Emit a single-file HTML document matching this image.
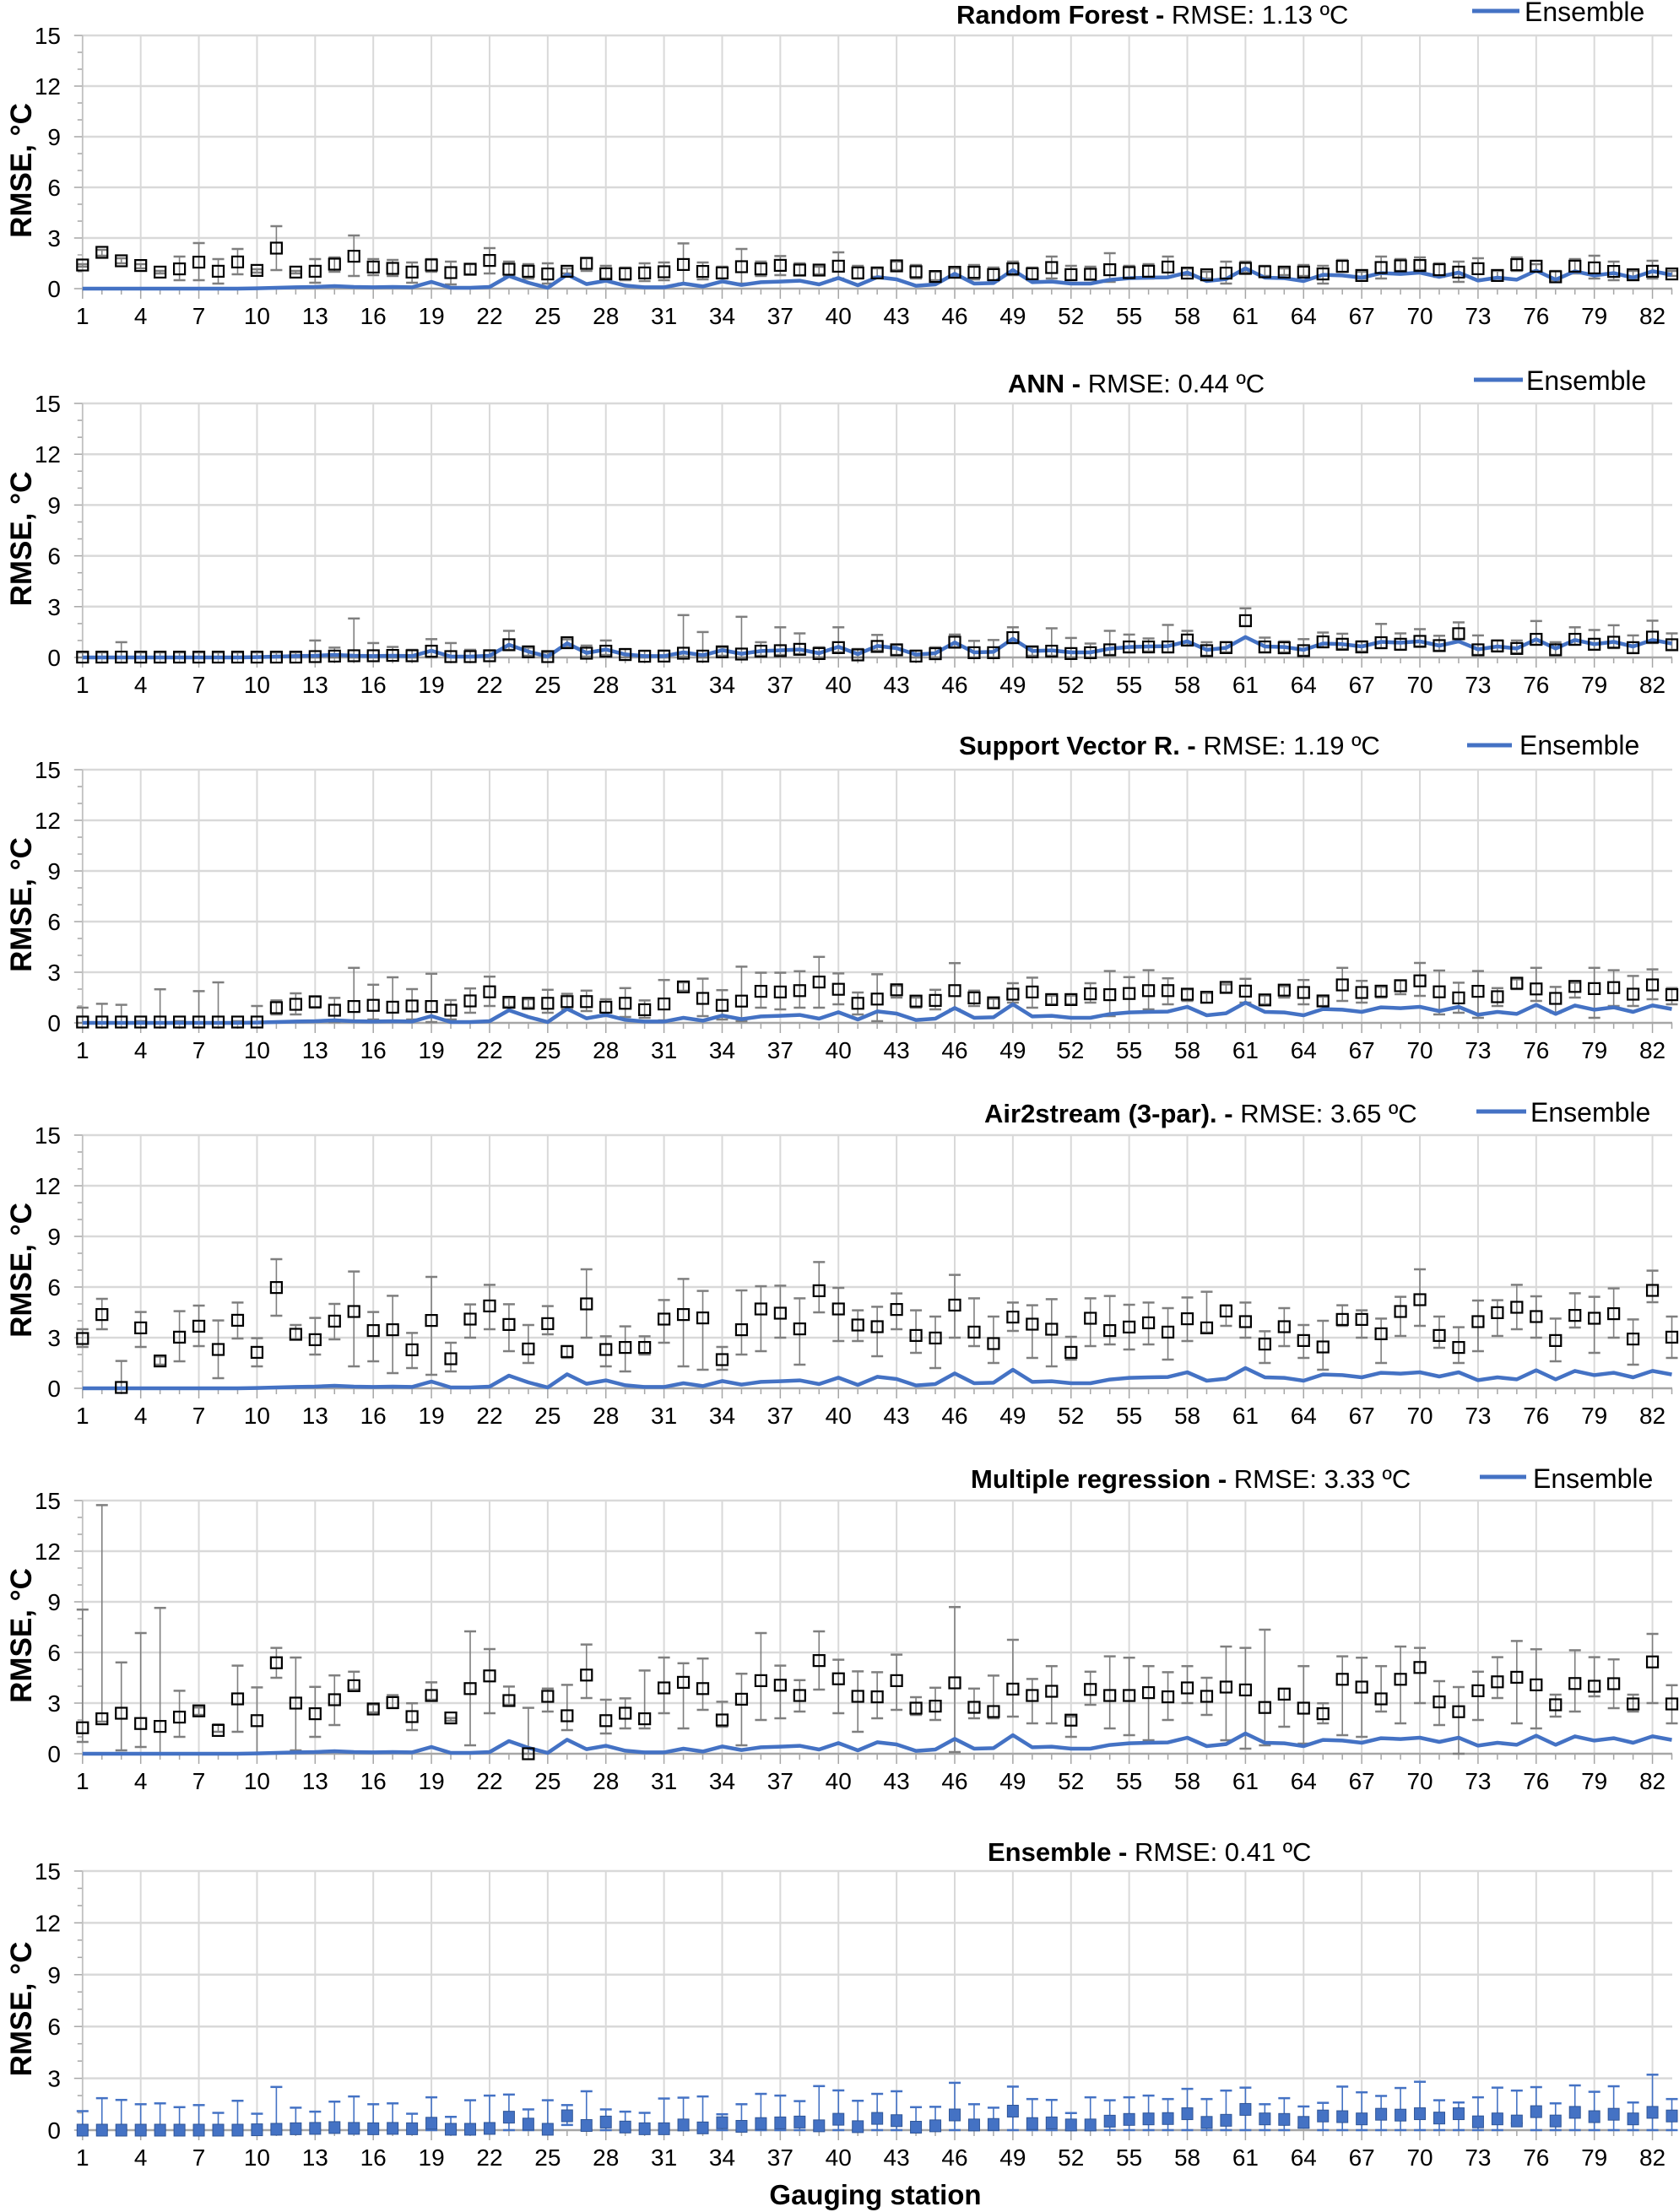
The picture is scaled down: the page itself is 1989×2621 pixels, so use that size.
<!DOCTYPE html>
<html>
<head>
<meta charset="utf-8">
<style>
  html,body{margin:0;padding:0;background:#fff;}
  svg{display:block;font-family:"Liberation Sans",Arial,sans-serif;}
</style>
</head>
<body>
<svg id="chart" xmlns="http://www.w3.org/2000/svg" width="1989" height="2621" viewBox="0 0 1989 2621">
  <rect x="0" y="0" width="1989" height="2621" fill="#ffffff"/>
  <g id="layer"></g>
  <text x="1037" y="2612" font-size="33" font-weight="bold" text-anchor="middle" fill="#000">Gauging station</text>
</svg>
<script>
// ---- data ----
const stations = Array.from({length:83},(_, k)=>k+1);
const yTicks = [0,3,6,9,12,15];
const xLabelStations = [1,4,7,10,13,16,19,22,25,28,31,34,37,40,43,46,49,52,55,58,61,64,67,70,73,76,79,82];

const ensemble = [0,0,0,0,0,0,0,0,0,0.02,0.05,0.08,0.1,0.15,0.1,0.08,0.1,0.08,0.4,0.05,0.05,0.1,0.75,0.35,0.05,0.83,0.27,0.47,0.18,0.08,0.08,0.3,0.13,0.43,0.22,0.38,0.42,0.47,0.25,0.63,0.2,0.68,0.55,0.17,0.25,0.88,0.3,0.33,1.1,0.38,0.42,0.3,0.3,0.52,0.62,0.65,0.67,0.95,0.45,0.57,1.2,0.65,0.62,0.45,0.82,0.78,0.65,0.92,0.87,0.95,0.7,0.95,0.48,0.65,0.53,1.07,0.53,1.03,0.78,0.92,0.65,1.03,0.82];
const ensUp = [1.1,1.85,1.75,1.5,1.55,1.33,1.45,1.0,1.7,0.95,2.5,1.3,1.07,1.65,1.95,1.5,1.55,0.95,1.9,0.77,1.73,2.0,2.06,1.2,1.73,1.45,2.25,1.2,1.07,1.0,1.83,1.88,1.95,0.92,1.5,2.1,2.0,1.68,2.55,2.3,1.7,2.1,2.25,1.33,1.35,2.74,1.5,1.3,2.52,1.8,1.75,0.99,1.9,1.73,1.9,2.0,1.8,2.39,1.8,2.29,2.46,1.5,1.85,1.37,1.58,2.52,2.19,1.98,2.44,2.8,1.73,1.6,1.9,2.46,2.29,2.49,1.55,2.59,2.22,2.54,1.6,3.21,1.8];
const ensLo = [0,0,0,0,0,0,0,0,0,0,0,0,0,0,0,0,0,0,0,0,0,0,0,0,0,0.3,0,0,0,0,0,0,0,0,0,0,0,0,0,0,0,0,0,0,0,0,0,0,0,0,0,0,0,0,0,0,0,0,0,0,0,0,0,0.15,0,0,0,0,0,0,0,0,0,0,0.4,0,0,0,0,0,0,0,0];

const rf = [1.4,2.15,1.65,1.37,0.98,1.17,1.57,1.03,1.58,1.08,2.4,0.98,1.03,1.45,1.92,1.28,1.2,0.98,1.4,0.95,1.15,1.67,1.15,1.03,0.87,1.03,1.5,0.88,0.88,0.93,1.0,1.43,1.02,0.93,1.3,1.17,1.38,1.1,1.1,1.33,0.93,0.93,1.35,1.0,0.72,0.97,0.97,0.83,1.17,0.88,1.25,0.83,0.85,1.12,0.95,1.03,1.28,0.92,0.82,0.92,1.2,1.0,0.98,0.98,0.87,1.32,0.78,1.25,1.35,1.37,1.12,0.98,1.18,0.78,1.42,1.33,0.7,1.33,1.23,1.02,0.82,1.03,0.87];
const rfUp = [1.45,2.3,1.8,1.45,1.05,1.9,2.7,1.75,2.35,1.15,3.7,1.05,1.75,1.85,3.15,1.75,1.7,1.55,1.75,1.6,1.45,2.4,1.6,1.45,1.5,1.2,1.8,1.35,1.25,1.5,1.55,2.68,1.55,1.3,2.35,1.6,1.93,1.5,1.3,2.15,1.35,1.2,1.6,1.4,1.0,1.2,1.4,1.25,1.6,1.25,1.9,1.35,1.3,2.1,1.35,1.45,1.9,1.2,1.0,1.6,1.6,1.35,1.2,1.4,1.35,1.7,1.0,1.9,1.75,1.85,1.5,1.6,1.8,1.05,1.85,1.45,1.05,1.75,1.95,1.6,1.05,1.65,1.05];
const rfLo = [1.3,1.95,1.5,1.2,0.9,0.5,0.5,0.3,0.85,0.95,1.1,0.9,0.35,1.0,0.75,0.8,0.75,0.35,1.0,0.25,0.85,0.9,0.7,0.6,0.3,0.9,1.05,0.6,0.5,0.45,0.5,0.3,0.55,0.6,0.3,0.75,0.8,0.8,0.85,0.6,0.6,0.7,1.1,0.6,0.5,0.75,0.55,0.45,0.8,0.5,0.6,0.5,0.55,0.4,0.6,0.6,0.7,0.8,0.6,0.3,0.95,0.75,0.8,0.75,0.3,1.0,0.6,0.6,1.05,1.1,0.7,0.4,0.55,0.6,1.05,1.05,0.5,0.9,0.6,0.5,0.6,0.6,0.75];

const ann = [0.02,0.02,0.02,0.02,0.02,0.02,0.02,0.02,0.02,0.02,0.02,0.02,0.05,0.08,0.1,0.1,0.12,0.1,0.37,0.05,0.05,0.1,0.75,0.33,0.05,0.87,0.25,0.37,0.17,0.07,0.08,0.25,0.08,0.33,0.2,0.37,0.4,0.48,0.23,0.58,0.15,0.65,0.45,0.08,0.22,0.9,0.28,0.28,1.17,0.33,0.37,0.23,0.28,0.45,0.62,0.62,0.62,1.03,0.4,0.58,2.17,0.62,0.57,0.4,0.92,0.78,0.62,0.87,0.78,0.95,0.7,1.4,0.45,0.68,0.53,1.07,0.45,1.07,0.78,0.9,0.58,1.2,0.75];
const annUp = [0.3,0.3,0.9,0.3,0.3,0.3,0.3,0.3,0.3,0.3,0.3,0.3,1.0,0.58,2.3,0.85,0.62,0.45,1.08,0.85,0.45,0.4,1.57,0.58,0.3,1.07,0.7,1.0,0.5,0.4,0.4,2.5,1.5,0.6,2.4,0.9,1.78,1.42,0.6,1.78,0.5,1.33,0.75,0.4,0.6,1.35,0.98,1.03,1.78,0.62,1.72,1.15,0.82,1.57,1.35,1.12,1.92,1.57,0.9,0.9,2.9,1.17,0.95,1.08,1.47,1.4,0.95,1.98,1.42,1.67,1.28,2.07,1.3,1.0,1.0,2.15,0.9,1.78,1.62,1.9,1.3,2.17,1.42];
const annLo = [0,0,0,0,0,0,0,0,0,0,0,0,0,0,0,0,0,0,0,0,0,0,0.45,0.1,0,0.6,0.05,0.15,0,0,0,0.05,0,0.1,0,0.1,0.15,0.2,0,0.3,0,0.4,0.15,0,0,0.6,0,0,0.85,0.1,0.1,0,0,0.15,0.3,0.35,0.3,0.7,0.1,0.3,1.85,0.3,0.3,0.1,0.6,0.5,0.35,0.55,0.45,0.65,0.4,1.1,0.15,0.35,0.25,0.75,0.15,0.75,0.45,0.55,0.25,0.85,0.45];

const svr = [0.05,0.05,0.05,0.05,0.05,0.05,0.05,0.05,0.05,0.05,0.9,1.1,1.25,0.75,0.97,1.04,0.93,1.0,0.97,0.75,1.3,1.84,1.22,1.16,1.16,1.26,1.26,0.93,1.16,0.78,1.12,2.13,1.45,1.04,1.29,1.87,1.83,1.91,2.42,1.99,1.16,1.41,1.96,1.29,1.33,1.91,1.48,1.19,1.7,1.83,1.38,1.38,1.72,1.67,1.74,1.91,1.91,1.7,1.52,2.1,1.88,1.36,1.94,1.8,1.3,2.25,1.8,1.88,2.2,2.49,1.84,1.48,1.87,1.55,2.35,2.01,1.45,2.16,2.03,2.09,1.7,2.25,1.67];
const svrUp = [0.9,1.13,1.07,0.1,1.99,0.1,1.88,2.4,0.1,1.0,1.33,1.75,1.55,1.48,3.26,2.26,2.7,2.0,2.91,1.35,2.04,2.74,1.48,1.4,1.96,1.72,1.91,1.4,2.06,1.33,2.54,2.4,2.62,1.94,3.33,2.97,2.97,3.06,3.91,2.93,1.8,2.88,2.2,1.5,1.96,3.54,1.91,1.43,2.35,2.68,1.62,1.62,2.35,3.07,2.71,3.12,2.64,1.99,1.77,2.28,2.61,1.62,2.17,2.54,1.55,3.26,2.49,2.13,2.52,3.55,3.1,2.38,3.07,2.06,2.58,3.26,2.13,2.38,3.26,3.12,2.78,3.17,2.06];
const svrLo = [0,0,0,0,0,0,0,0,0,0,0.5,0.5,0.9,0.05,0.1,0.2,0.1,0.2,0.05,0.2,0.6,1.0,0.95,0.9,0.6,0.8,0.7,0.4,0.35,0.3,0.15,1.9,0.4,0.2,0.1,0.9,0.8,0.9,0.9,1.1,0.5,0.1,1.5,0.9,0.8,0.8,1.0,0.9,1.2,0.9,1.1,1.1,1.2,0.4,0.6,0.8,1.1,1.3,1.2,1.8,1.2,1.1,1.5,1.1,1.0,1.3,1.2,1.5,1.7,1.6,0.5,0.6,0.3,1.0,2.0,1.3,0.6,1.5,0.3,1.0,1.0,1.4,1.1];

const air = [2.95,4.37,0.05,3.58,1.62,3.03,3.68,2.3,4.03,2.13,5.97,3.2,2.88,3.98,4.55,3.42,3.47,2.28,4.02,1.75,4.1,4.88,3.78,2.33,3.83,2.18,5.0,2.3,2.42,2.42,4.1,4.37,4.17,1.7,3.47,4.7,4.45,3.52,5.78,4.7,3.75,3.65,4.67,3.13,2.98,4.93,3.33,2.65,4.22,3.8,3.5,2.13,4.15,3.42,3.63,3.88,3.33,4.12,3.58,4.58,3.95,2.62,3.65,2.83,2.45,4.08,4.08,3.23,4.55,5.25,3.13,2.42,3.95,4.48,4.8,4.25,2.83,4.32,4.15,4.42,2.92,5.8,3.03];
const airUp = [3.5,5.3,1.62,4.52,1.88,4.57,4.9,4.02,5.08,2.97,7.65,3.75,4.17,5.0,6.92,4.52,5.48,3.28,6.6,2.7,4.97,6.13,4.98,3.75,4.87,2.5,7.05,3.08,3.67,3.08,5.23,6.48,5.77,2.45,5.8,6.05,6.08,5.33,7.48,5.95,4.62,4.83,5.62,4.62,4.25,6.72,5.33,4.25,5.08,4.92,5.28,3.05,5.33,5.47,4.95,5.08,4.75,5.38,5.72,4.92,5.08,3.38,4.75,3.75,4.0,4.92,4.62,4.13,5.42,7.05,4.25,3.62,5.2,5.22,6.13,5.45,4.13,5.63,5.42,5.92,4.08,6.97,4.25];
const airLo = [2.45,3.5,0,2.45,1.4,1.6,2.5,0.6,2.95,1.3,4.3,2.9,2.0,2.9,1.3,1.6,0.9,1.2,0.8,1.0,3.0,3.5,2.2,1.5,3.2,1.8,3.0,1.3,1.0,2.0,2.7,1.3,1.1,1.1,2.0,2.2,3.0,1.4,4.5,2.8,2.8,1.9,3.5,2.1,1.2,3.0,2.5,1.5,3.4,1.8,1.3,1.7,2.5,2.6,2.3,2.6,1.7,2.8,3.3,3.7,3.0,1.5,2.5,1.8,1.1,3.7,3.0,1.5,3.1,3.7,2.4,1.5,2.2,3.1,3.5,3.0,1.6,3.6,2.1,3.0,1.4,5.1,1.8];

const mr = [1.54,2.07,2.4,1.79,1.62,2.17,2.54,1.38,3.25,1.96,5.39,3.0,2.37,3.2,4.03,2.65,3.03,2.2,3.45,2.12,3.86,4.61,3.15,0.0,3.4,2.25,4.66,1.96,2.4,2.07,3.9,4.23,3.86,2.0,3.23,4.33,4.06,3.45,5.52,4.44,3.4,3.37,4.33,2.7,2.82,4.2,2.75,2.5,3.83,3.45,3.7,1.99,3.81,3.45,3.45,3.62,3.37,3.9,3.4,3.95,3.78,2.74,3.53,2.7,2.37,4.41,3.95,3.25,4.41,5.11,3.07,2.49,3.73,4.26,4.53,4.08,2.9,4.16,4.0,4.15,2.95,5.44,2.95];
const mrUp = [8.54,14.73,5.41,7.15,8.64,3.73,2.74,1.74,5.22,3.93,6.27,5.7,3.96,4.64,4.86,2.92,3.47,2.99,4.23,2.12,7.25,6.2,3.98,2.72,3.86,4.08,6.47,3.2,3.28,4.93,5.7,5.36,5.64,3.08,4.74,7.15,5.22,4.36,7.25,5.57,4.88,4.83,5.87,3.35,3.91,8.69,3.86,4.63,6.75,4.43,5.19,2.2,4.86,5.77,5.69,5.19,4.83,5.19,4.5,6.35,6.27,7.35,3.86,5.19,2.99,5.77,5.69,5.19,6.35,6.27,4.3,3.95,4.86,5.72,6.68,6.19,3.5,6.13,5.72,5.59,3.5,7.1,4.06];
const mrLo = [0.7,1.9,0.2,0.4,0.0,1.0,2.3,1.3,1.3,0.0,4.5,0.2,1.0,1.7,3.8,2.45,2.7,1.4,3.2,1.95,0.5,2.4,2.9,0,2.5,1.4,3.3,1.2,1.5,1.5,2.4,1.5,2.6,1.6,0.5,2.0,2.1,2.5,3.8,2.4,1.3,2.1,2.6,2.3,2.0,0.1,2.1,2.1,2.2,1.8,1.8,1.0,2.9,1.5,1.1,0.8,2.0,3.0,2.3,0.8,0.3,0.5,1.6,0.6,1.8,1.1,1.0,2.5,1.8,3.0,1.7,0.0,2.0,3.3,1.8,1.5,2.2,2.5,3.4,2.7,2.5,3.0,1.8];

// ---- layout ----
const NS = "http://www.w3.org/2000/svg";
const layer = document.getElementById('layer');
const X0 = 97.8, DX = 22.96, XR = 1981;
function xs(i){ return X0 + (i-1)*DX; }
function mk(tag, attrs, parent){
  const e = document.createElementNS(NS, tag);
  for (const k in attrs) e.setAttribute(k, attrs[k]);
  (parent||layer).appendChild(e);
  return e;
}
const panels = [
  {key:'random-forest', top:42, zero:342, vals:rf, up:rfUp, lo:rfLo, bold:'Random Forest - ', rest:'RMSE: 1.13 ºC', tx:1133, ty:28, legend:{lx1:1744,lx2:1800,ly:13,tx:1806,ty:19}},
  {key:'ann', top:478, zero:779, vals:ann, up:annUp, lo:annLo, bold:'ANN - ', rest:'RMSE: 0.44 ºC', tx:1194, ty:465, legend:{lx1:1746,lx2:1804,ly:450,tx:1808,ty:456}},
  {key:'support-vector', top:912, zero:1212, vals:svr, up:svrUp, lo:svrLo, bold:'Support Vector R. - ', rest:'RMSE: 1.19 ºC', tx:1136, ty:894, legend:{lx1:1738,lx2:1791,ly:883,tx:1800,ty:888}},
  {key:'air2stream', top:1345, zero:1645, vals:air, up:airUp, lo:airLo, bold:'Air2stream (3-par). - ', rest:'RMSE: 3.65 ºC', tx:1166, ty:1330, legend:{lx1:1749,lx2:1808,ly:1317,tx:1813,ty:1323}},
  {key:'multiple-regression', top:1778, zero:2078, vals:mr, up:mrUp, lo:mrLo, bold:'Multiple regression - ', rest:'RMSE: 3.33 ºC', tx:1150, ty:1763, legend:{lx1:1753,lx2:1808,ly:1750,tx:1816,ty:1757}},
  {key:'ensemble', top:2217, zero:2524, vals:ensemble, up:ensUp, lo:ensLo, bold:'Ensemble - ', rest:'RMSE: 0.41 ºC', tx:1170, ty:2205, legend:null}
];

panels.forEach((p, pi) => {
  const g = mk('g', {});
  
  
  const ys = v => p.zero - v * (p.zero - p.top) / 15;
  const isEns = p.key === 'ensemble';

  xLabelStations.forEach(s => {
    const l = mk('line', {x1:xs(s), x2:xs(s), y1:p.top, y2:p.zero, stroke:'#d9d9d9', 'stroke-width':2}, g);
    
    
  });
  yTicks.forEach(t => {
    if (t > 0) {
      const l = mk('line', {x1:X0, x2:XR, y1:ys(t), y2:ys(t), stroke:'#d9d9d9', 'stroke-width':2.5}, g);
      
      
    }
    const tl = mk('text', {x:72, y:ys(t)+10, 'font-size':28, 'text-anchor':'end', fill:'#000'}, g);
    tl.textContent = t;
    
    
  });
  for (let v = 0; v <= 15; v++) {
    const len = v % 3 === 0 ? 10 : 6;
    mk('line', {x1:X0-len, x2:X0, y1:ys(v), y2:ys(v), stroke:'#a6a6a6', 'stroke-width':1.5}, g);
  }
  const ya = mk('line', {x1:X0, x2:X0, y1:p.top, y2:p.zero, stroke:'#bfbfbf', 'stroke-width':1.5}, g);
  
  
  const xa = mk('line', {x1:X0, x2:XR, y1:p.zero, y2:p.zero, stroke:'#a6a6a6', 'stroke-width':2.5}, g);
  
  
  stations.forEach(s => {
    const major = (s - 1) % 3 === 0;
    mk('line', {x1:xs(s), x2:xs(s), y1:p.zero, y2:p.zero + (major ? 12 : 7), stroke:'#a6a6a6', 'stroke-width':1.5}, g);
  });
  xLabelStations.forEach(s => {
    const tl = mk('text', {x:xs(s), y:p.zero + 42, 'font-size':28, 'text-anchor':'middle', fill:'#000'}, g);
    tl.textContent = s;
    
    
  });
  const cy = (p.top + p.zero) / 2 + 10;
  const yt = mk('text', {x:0, y:0, 'font-size':35, 'font-weight':'bold', 'text-anchor':'middle', fill:'#000', transform:'translate(37,' + cy + ') rotate(-90)'}, g);
  yt.textContent = 'RMSE, °C';
  
  
  const tt = mk('text', {x:p.tx, y:p.ty, 'font-size':31, fill:'#000'}, g);
  
  
  const b = mk('tspan', {'font-weight':'bold'}, tt); b.textContent = p.bold;
  const r = mk('tspan', {}, tt); r.textContent = p.rest;
  if (p.legend) {
    const L = p.legend;
    const lg = mk('g', {}, g);
    
    
    mk('line', {x1:L.lx1, x2:L.lx2, y1:L.ly, y2:L.ly, stroke:'#4472c4', 'stroke-width':5}, lg);
    const lt = mk('text', {x:L.tx, y:L.ty + 6, 'font-size':32, fill:'#000'}, lg);
    lt.textContent = 'Ensemble';
  }

  const color = isEns ? '#4472c4' : '#7f7f7f';
  p.vals.forEach((v, k) => {
    const x = xs(k+1);
    const eb = mk('g', {}, g);
    
    
    mk('line', {x1:x, x2:x, y1:ys(p.up[k]), y2:ys(p.lo[k]), stroke:color, 'stroke-width':1.6}, eb);
    mk('line', {x1:x-7, x2:x+7, y1:ys(p.up[k]), y2:ys(p.up[k]), stroke:color, 'stroke-width':2.5}, eb);
    mk('line', {x1:x-7, x2:x+7, y1:ys(p.lo[k]), y2:ys(p.lo[k]), stroke:color, 'stroke-width':2.5}, eb);
  });
  if (!isEns) {
    const pts = ensemble.map((v, k) => xs(k+1).toFixed(1) + ',' + ys(v).toFixed(1)).join(' ');
    const pl = mk('polyline', {points:pts, fill:'none', stroke:'#4472c4', 'stroke-width':4.5, 'stroke-linejoin':'round'}, g);
    
    
  }
  p.vals.forEach((v, k) => {
    const x = xs(k+1), y = ys(v);
    const m = isEns
      ? mk('rect', {x:x-6.5, y:y-7, width:13, height:14, fill:'#4472c4', stroke:'#2f5597', 'stroke-width':1}, g)
      : mk('rect', {x:x-6.5, y:y-6.5, width:13, height:13, fill:'none', stroke:'#000', 'stroke-width':2.2}, g);
    
    
  });
});
</script>
</body>
</html>
